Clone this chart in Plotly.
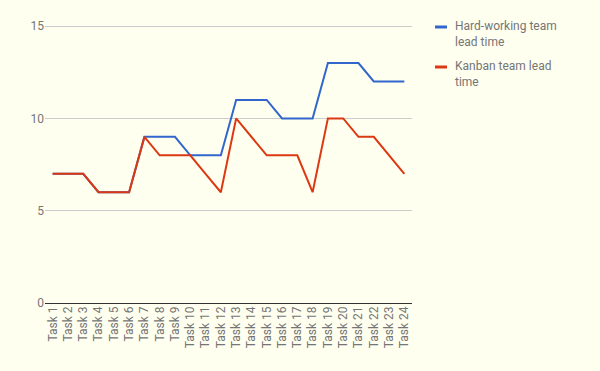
import plotly.graph_objects as go

tasks = [f"Task {i}" for i in range(1, 25)]
hard_working = [7, 7, 7, 6, 6, 6, 9, 9, 9, 8, 8, 8, 11, 11, 11, 10, 10, 10, 13, 13, 13, 12, 12, 12]
kanban = [7, 7, 7, 6, 6, 6, 9, 8, 8, 8, 7, 6, 10, 9, 8, 8, 8, 6, 10, 10, 9, 9, 8, 7]
series_names = ["Hard-working team<br>lead time", "Kanban team lead<br>time"]
series_colors = ["#3366cc", "#dc3912"]
y_ticks = [0, 5, 10, 15]

bg = "#fffff0"
L, R, T, B = 45, 188, 25, 68
W, H = 600, 371
pw, ph = W - L - R, H - T - B

fig = go.Figure()
for name, vals, col in zip(series_names, [hard_working, kanban], series_colors):
    fig.add_trace(go.Scatter(x=tasks, y=vals, mode="lines", name=name,
                             line=dict(color=col, width=2), showlegend=False))

# custom legend (short swatches like the reference)
def px_x(p):
    return (p - L) / pw

def px_y(p):
    return (H - B - p) / ph

for i, (name, col) in enumerate(zip(series_names, series_colors)):
    cy = 27 + 40 * i
    fig.add_shape(type="line", xref="paper", yref="paper",
                  x0=px_x(435), x1=px_x(447), y0=px_y(cy), y1=px_y(cy),
                  line=dict(color=col, width=3))
    fig.add_annotation(xref="paper", yref="paper", x=px_x(453), y=px_y(cy - 10),
                       xanchor="left", yanchor="top", showarrow=False, align="left",
                       text=name, font=dict(family="Roboto", size=12, color="#757575"))

fig.update_layout(
    width=W, height=H,
    paper_bgcolor=bg, plot_bgcolor=bg,
    margin=dict(l=L, r=R, t=T, b=B, autoexpand=False),
    font=dict(family="Roboto", size=12, color="#757575"),
    showlegend=False,
    xaxis=dict(type="category", range=[-0.5, 23.5], tickangle=-90,
               showgrid=False, showline=False, ticks="", automargin=False,
               tickfont=dict(size=12, color="#757575")),
    yaxis=dict(range=[0, 15.06], tickvals=y_ticks, showgrid=True,
               gridcolor="#cccccc", gridwidth=1, zeroline=True,
               zerolinecolor="#333333", zerolinewidth=1, ticks="", automargin=False,
               tickfont=dict(size=12, color="#757575")),
)
fig.write_html("out.html", config={"displayModeBar": False})

with open("out.html", "r", encoding="utf-8") as f:
    html = f.read()
html = html.replace("<head>", "<head><style>html,body{margin:0;padding:0;background:%s;}</style>" % bg, 1)
with open("out.html", "w", encoding="utf-8") as f:
    f.write(html)
